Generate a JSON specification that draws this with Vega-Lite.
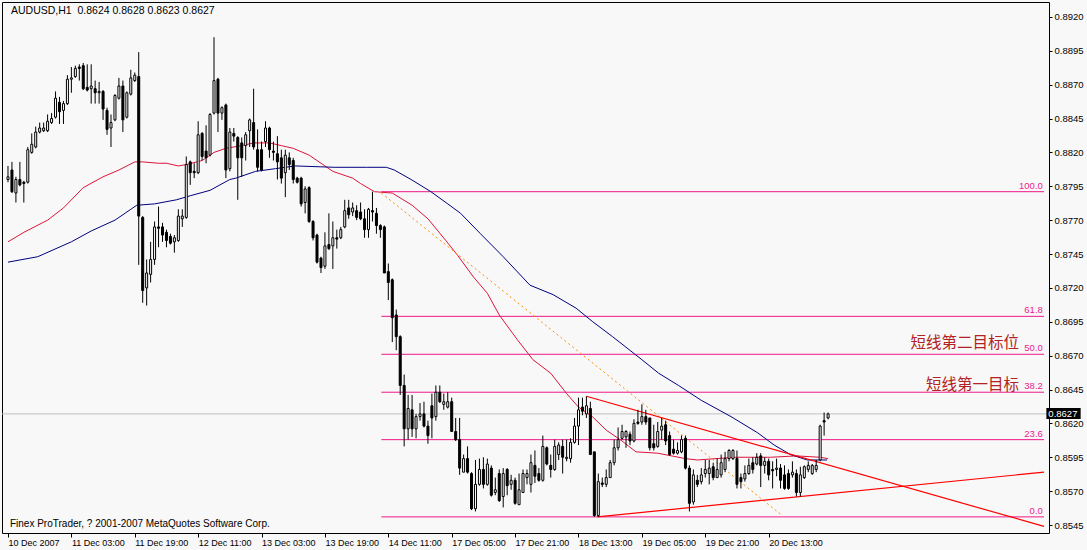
{
"$schema":"https://vega.github.io/schema/vega-lite/v6.json",
"width":1047,"height":531,
"autosize":{"type":"none"},
"padding":{"left":2,"top":2,"right":38,"bottom":17},
"background":"#F8F8F8",
"config":{"view":{"stroke":"#000000","strokeWidth":1},"text":{"font":"Liberation Sans"}},
"datasets":{
"bars":[
{"i":0,"o":0.8800,"h":0.8810,"l":0.8798,"c":0.8802},
{"i":1,"o":0.8807,"h":0.8813,"l":0.8790,"c":0.8791},
{"i":2,"o":0.8790,"h":0.8802,"l":0.8783,"c":0.8800},
{"i":3,"o":0.8800,"h":0.8813,"l":0.8795,"c":0.8796},
{"i":4,"o":0.8798,"h":0.8799,"l":0.8783,"c":0.8797},
{"i":5,"o":0.8798,"h":0.8824,"l":0.8797,"c":0.8822},
{"i":6,"o":0.8820,"h":0.8834,"l":0.8819,"c":0.8826},
{"i":7,"o":0.8824,"h":0.8839,"l":0.8823,"c":0.8835},
{"i":8,"o":0.8835,"h":0.8842,"l":0.8834,"c":0.8838},
{"i":9,"o":0.8836,"h":0.8842,"l":0.8835,"c":0.8838},
{"i":10,"o":0.8836,"h":0.8848,"l":0.8835,"c":0.8843},
{"i":11,"o":0.8842,"h":0.8849,"l":0.8841,"c":0.8845},
{"i":12,"o":0.8846,"h":0.8865,"l":0.8845,"c":0.8860},
{"i":13,"o":0.8857,"h":0.8861,"l":0.8841,"c":0.8850},
{"i":14,"o":0.8851,"h":0.8858,"l":0.8841,"c":0.8856},
{"i":15,"o":0.8856,"h":0.8877,"l":0.8855,"c":0.8874},
{"i":16,"o":0.8874,"h":0.8883,"l":0.8864,"c":0.8875},
{"i":17,"o":0.8876,"h":0.8884,"l":0.8875,"c":0.8882},
{"i":18,"o":0.8883,"h":0.8885,"l":0.8873,"c":0.8882},
{"i":19,"o":0.8884,"h":0.8886,"l":0.8866,"c":0.8867},
{"i":20,"o":0.8868,"h":0.8885,"l":0.8865,"c":0.8866},
{"i":21,"o":0.8867,"h":0.8885,"l":0.8856,"c":0.8869},
{"i":22,"o":0.8867,"h":0.8873,"l":0.8856,"c":0.8864},
{"i":23,"o":0.8864,"h":0.8872,"l":0.8856,"c":0.8865},
{"i":24,"o":0.8865,"h":0.8866,"l":0.8844,"c":0.8852},
{"i":25,"o":0.8851,"h":0.8853,"l":0.8833,"c":0.8837},
{"i":26,"o":0.8838,"h":0.8848,"l":0.8824,"c":0.8842},
{"i":27,"o":0.8844,"h":0.8863,"l":0.8843,"c":0.8862},
{"i":28,"o":0.8860,"h":0.8875,"l":0.8859,"c":0.8869},
{"i":29,"o":0.8869,"h":0.8873,"l":0.8835,"c":0.8844},
{"i":30,"o":0.8846,"h":0.8865,"l":0.8845,"c":0.8864},
{"i":31,"o":0.8863,"h":0.8881,"l":0.8862,"c":0.8875},
{"i":32,"o":0.8873,"h":0.8879,"l":0.8872,"c":0.8877},
{"i":33,"o":0.8876,"h":0.8894,"l":0.8737,"c":0.8773},
{"i":34,"o":0.8772,"h":0.8773,"l":0.8709,"c":0.8718},
{"i":35,"o":0.8720,"h":0.8741,"l":0.8707,"c":0.8731},
{"i":36,"o":0.8730,"h":0.8754,"l":0.8724,"c":0.8741},
{"i":37,"o":0.8741,"h":0.8769,"l":0.8737,"c":0.8765},
{"i":38,"o":0.8765,"h":0.8780,"l":0.8750,"c":0.8764},
{"i":39,"o":0.8765,"h":0.8768,"l":0.8754,"c":0.8759},
{"i":40,"o":0.8761,"h":0.8763,"l":0.8750,"c":0.8755},
{"i":41,"o":0.8758,"h":0.8760,"l":0.8752,"c":0.8753},
{"i":42,"o":0.8754,"h":0.8759,"l":0.8746,"c":0.8757},
{"i":43,"o":0.8755,"h":0.8778,"l":0.8754,"c":0.8773},
{"i":44,"o":0.8771,"h":0.8778,"l":0.8765,"c":0.8773},
{"i":45,"o":0.8772,"h":0.8817,"l":0.8771,"c":0.8811},
{"i":46,"o":0.8813,"h":0.8814,"l":0.8796,"c":0.8805},
{"i":47,"o":0.8806,"h":0.8812,"l":0.8801,"c":0.8805},
{"i":48,"o":0.8805,"h":0.8843,"l":0.8804,"c":0.8833},
{"i":49,"o":0.8834,"h":0.8835,"l":0.8814,"c":0.8817},
{"i":50,"o":0.8821,"h":0.8840,"l":0.8812,"c":0.8816},
{"i":51,"o":0.8818,"h":0.8849,"l":0.8817,"c":0.8848},
{"i":52,"o":0.8849,"h":0.8905,"l":0.8848,"c":0.8873},
{"i":53,"o":0.8874,"h":0.8875,"l":0.8835,"c":0.8849},
{"i":54,"o":0.8849,"h":0.8854,"l":0.8844,"c":0.8853},
{"i":55,"o":0.8855,"h":0.8856,"l":0.8801,"c":0.8807},
{"i":56,"o":0.8808,"h":0.8838,"l":0.8806,"c":0.8835},
{"i":57,"o":0.8834,"h":0.8838,"l":0.8828,"c":0.8832},
{"i":58,"o":0.8831,"h":0.8832,"l":0.8785,"c":0.8816},
{"i":59,"o":0.8827,"h":0.8831,"l":0.8802,"c":0.8816},
{"i":60,"o":0.8825,"h":0.8835,"l":0.8814,"c":0.8833},
{"i":61,"o":0.8836,"h":0.8845,"l":0.8824,"c":0.8844},
{"i":62,"o":0.8842,"h":0.8867,"l":0.8822,"c":0.8824},
{"i":63,"o":0.8822,"h":0.8837,"l":0.8806,"c":0.8809},
{"i":64,"o":0.8822,"h":0.8828,"l":0.8806,"c":0.8807},
{"i":65,"o":0.8828,"h":0.8843,"l":0.8824,"c":0.8838},
{"i":66,"o":0.8838,"h":0.8839,"l":0.8816,"c":0.8822},
{"i":67,"o":0.8821,"h":0.8828,"l":0.8814,"c":0.8820},
{"i":68,"o":0.8819,"h":0.8832,"l":0.8800,"c":0.8813},
{"i":69,"o":0.8816,"h":0.8822,"l":0.8797,"c":0.8801},
{"i":70,"o":0.8805,"h":0.8822,"l":0.8787,"c":0.8818},
{"i":71,"o":0.8816,"h":0.8820,"l":0.8807,"c":0.8811},
{"i":72,"o":0.8814,"h":0.8816,"l":0.8797,"c":0.8800},
{"i":73,"o":0.8801,"h":0.8802,"l":0.8797,"c":0.8798},
{"i":74,"o":0.8801,"h":0.8802,"l":0.8780,"c":0.8782},
{"i":75,"o":0.8783,"h":0.8795,"l":0.8775,"c":0.8793},
{"i":76,"o":0.8794,"h":0.8795,"l":0.8768,"c":0.8769},
{"i":77,"o":0.8769,"h":0.8770,"l":0.8755,"c":0.8757},
{"i":78,"o":0.8759,"h":0.8760,"l":0.8738,"c":0.8739},
{"i":79,"o":0.8742,"h":0.8743,"l":0.8731,"c":0.8735},
{"i":80,"o":0.8736,"h":0.8761,"l":0.8734,"c":0.8751},
{"i":81,"o":0.8752,"h":0.8775,"l":0.8748,"c":0.8749},
{"i":82,"o":0.8751,"h":0.8769,"l":0.8734,"c":0.8757},
{"i":83,"o":0.8757,"h":0.8763,"l":0.8749,"c":0.8756},
{"i":84,"o":0.8757,"h":0.8765,"l":0.8756,"c":0.8763},
{"i":85,"o":0.8765,"h":0.8785,"l":0.8764,"c":0.8777},
{"i":86,"o":0.8779,"h":0.8785,"l":0.8771,"c":0.8774},
{"i":87,"o":0.8776,"h":0.8783,"l":0.8773,"c":0.8779},
{"i":88,"o":0.8777,"h":0.8781,"l":0.8770,"c":0.8772},
{"i":89,"o":0.8776,"h":0.8783,"l":0.8770,"c":0.8771},
{"i":90,"o":0.8771,"h":0.8778,"l":0.8757,"c":0.8763},
{"i":91,"o":0.8763,"h":0.8779,"l":0.8757,"c":0.8778},
{"i":92,"o":0.8777,"h":0.8791,"l":0.8769,"c":0.8776},
{"i":93,"o":0.8775,"h":0.8779,"l":0.8760,"c":0.8766},
{"i":94,"o":0.8766,"h":0.8767,"l":0.8757,"c":0.8763},
{"i":95,"o":0.8765,"h":0.8766,"l":0.8731,"c":0.8731},
{"i":96,"o":0.8732,"h":0.8738,"l":0.8711,"c":0.8724},
{"i":97,"o":0.8726,"h":0.8727,"l":0.8680,"c":0.8698},
{"i":98,"o":0.8700,"h":0.8704,"l":0.8674,"c":0.8684},
{"i":99,"o":0.8684,"h":0.8685,"l":0.8641,"c":0.8648},
{"i":100,"o":0.8648,"h":0.8656,"l":0.8603,"c":0.8616},
{"i":101,"o":0.8616,"h":0.8641,"l":0.8608,"c":0.8631},
{"i":102,"o":0.8630,"h":0.8641,"l":0.8610,"c":0.8616},
{"i":103,"o":0.8616,"h":0.8627,"l":0.8609,"c":0.8625},
{"i":104,"o":0.8625,"h":0.8635,"l":0.8622,"c":0.8627},
{"i":105,"o":0.8627,"h":0.8636,"l":0.8617,"c":0.8618},
{"i":106,"o":0.8618,"h":0.8622,"l":0.8605,"c":0.8611},
{"i":107,"o":0.8633,"h":0.8642,"l":0.8609,"c":0.8624},
{"i":108,"o":0.8625,"h":0.8648,"l":0.8622,"c":0.8643},
{"i":109,"o":0.8643,"h":0.8648,"l":0.8635,"c":0.8636},
{"i":110,"o":0.8634,"h":0.8642,"l":0.8630,"c":0.8636},
{"i":111,"o":0.8632,"h":0.8643,"l":0.8631,"c":0.8636},
{"i":112,"o":0.8636,"h":0.8639,"l":0.8614,"c":0.8614},
{"i":113,"o":0.8614,"h":0.8624,"l":0.8607,"c":0.8608},
{"i":114,"o":0.8608,"h":0.8624,"l":0.8582,"c":0.8587},
{"i":115,"o":0.8584,"h":0.8597,"l":0.8584,"c":0.8594},
{"i":116,"o":0.8594,"h":0.8603,"l":0.8583,"c":0.8584},
{"i":117,"o":0.8583,"h":0.8584,"l":0.8556,"c":0.8557},
{"i":118,"o":0.8557,"h":0.8593,"l":0.8555,"c":0.8575},
{"i":119,"o":0.8575,"h":0.8594,"l":0.8574,"c":0.8586},
{"i":120,"o":0.8586,"h":0.8595,"l":0.8572,"c":0.8575},
{"i":121,"o":0.8575,"h":0.8594,"l":0.8574,"c":0.8590},
{"i":122,"o":0.8587,"h":0.8589,"l":0.8566,"c":0.8567},
{"i":123,"o":0.8569,"h":0.8580,"l":0.8567,"c":0.8571},
{"i":124,"o":0.8583,"h":0.8586,"l":0.8562,"c":0.8563},
{"i":125,"o":0.8566,"h":0.8587,"l":0.8558,"c":0.8583},
{"i":126,"o":0.8586,"h":0.8587,"l":0.8567,"c":0.8574},
{"i":127,"o":0.8575,"h":0.8582,"l":0.8571,"c":0.8578},
{"i":128,"o":0.8578,"h":0.8580,"l":0.8560,"c":0.8561},
{"i":129,"o":0.8560,"h":0.8583,"l":0.8560,"c":0.8571},
{"i":130,"o":0.8569,"h":0.8586,"l":0.8569,"c":0.8583},
{"i":131,"o":0.8580,"h":0.8586,"l":0.8575,"c":0.8583},
{"i":132,"o":0.8575,"h":0.8597,"l":0.8569,"c":0.8591},
{"i":133,"o":0.8589,"h":0.8600,"l":0.8576,"c":0.8581},
{"i":134,"o":0.8583,"h":0.8587,"l":0.8577,"c":0.8578},
{"i":135,"o":0.8578,"h":0.8611,"l":0.8577,"c":0.8603},
{"i":136,"o":0.8602,"h":0.8603,"l":0.8589,"c":0.8590},
{"i":137,"o":0.8589,"h":0.8597,"l":0.8580,"c":0.8586},
{"i":138,"o":0.8586,"h":0.8608,"l":0.8585,"c":0.8603},
{"i":139,"o":0.8597,"h":0.8606,"l":0.8593,"c":0.8604},
{"i":140,"o":0.8603,"h":0.8608,"l":0.8583,"c":0.8595},
{"i":141,"o":0.8594,"h":0.8608,"l":0.8592,"c":0.8595},
{"i":142,"o":0.8594,"h":0.8609,"l":0.8591,"c":0.8606},
{"i":143,"o":0.8606,"h":0.8624,"l":0.8605,"c":0.8618},
{"i":144,"o":0.8618,"h":0.8639,"l":0.8604,"c":0.8630},
{"i":145,"o":0.8632,"h":0.8639,"l":0.8626,"c":0.8629},
{"i":146,"o":0.8627,"h":0.8640,"l":0.8624,"c":0.8633},
{"i":147,"o":0.8631,"h":0.8636,"l":0.8597,"c":0.8597},
{"i":148,"o":0.8599,"h":0.8599,"l":0.8551,"c":0.8552},
{"i":149,"o":0.8552,"h":0.8583,"l":0.8551,"c":0.8577},
{"i":150,"o":0.8576,"h":0.8580,"l":0.8573,"c":0.8575},
{"i":151,"o":0.8575,"h":0.8586,"l":0.8573,"c":0.8580},
{"i":152,"o":0.8580,"h":0.8593,"l":0.8580,"c":0.8591},
{"i":153,"o":0.8591,"h":0.8608,"l":0.8589,"c":0.8602},
{"i":154,"o":0.8602,"h":0.8617,"l":0.8600,"c":0.8608},
{"i":155,"o":0.8609,"h":0.8619,"l":0.8608,"c":0.8614},
{"i":156,"o":0.8610,"h":0.8615,"l":0.8602,"c":0.8614},
{"i":157,"o":0.8612,"h":0.8614,"l":0.8604,"c":0.8607},
{"i":158,"o":0.8607,"h":0.8623,"l":0.8606,"c":0.8620},
{"i":159,"o":0.8621,"h":0.8630,"l":0.8619,"c":0.8620},
{"i":160,"o":0.8621,"h":0.8634,"l":0.8619,"c":0.8625},
{"i":161,"o":0.8625,"h":0.8630,"l":0.8619,"c":0.8621},
{"i":162,"o":0.8624,"h":0.8624,"l":0.8600,"c":0.8602},
{"i":163,"o":0.8605,"h":0.8619,"l":0.8600,"c":0.8602},
{"i":164,"o":0.8603,"h":0.8621,"l":0.8602,"c":0.8614},
{"i":165,"o":0.8615,"h":0.8624,"l":0.8608,"c":0.8618},
{"i":166,"o":0.8619,"h":0.8622,"l":0.8604,"c":0.8607},
{"i":167,"o":0.8611,"h":0.8614,"l":0.8596,"c":0.8597},
{"i":168,"o":0.8601,"h":0.8608,"l":0.8597,"c":0.8598},
{"i":169,"o":0.8598,"h":0.8606,"l":0.8597,"c":0.8600},
{"i":170,"o":0.8599,"h":0.8611,"l":0.8598,"c":0.8608},
{"i":171,"o":0.8609,"h":0.8611,"l":0.8586,"c":0.8587},
{"i":172,"o":0.8587,"h":0.8589,"l":0.8555,"c":0.8561},
{"i":173,"o":0.8562,"h":0.8586,"l":0.8560,"c":0.8582},
{"i":174,"o":0.8578,"h":0.8582,"l":0.8573,"c":0.8575},
{"i":175,"o":0.8577,"h":0.8587,"l":0.8575,"c":0.8582},
{"i":176,"o":0.8583,"h":0.8593,"l":0.8580,"c":0.8586},
{"i":177,"o":0.8583,"h":0.8593,"l":0.8575,"c":0.8587},
{"i":178,"o":0.8588,"h":0.8591,"l":0.8578,"c":0.8580},
{"i":179,"o":0.8580,"h":0.8594,"l":0.8580,"c":0.8586},
{"i":180,"o":0.8582,"h":0.8597,"l":0.8580,"c":0.8591},
{"i":181,"o":0.8586,"h":0.8599,"l":0.8584,"c":0.8594},
{"i":182,"o":0.8594,"h":0.8601,"l":0.8592,"c":0.8600},
{"i":183,"o":0.8594,"h":0.8601,"l":0.8593,"c":0.8600},
{"i":184,"o":0.8594,"h":0.8600,"l":0.8572,"c":0.8575},
{"i":185,"o":0.8580,"h":0.8583,"l":0.8572,"c":0.8577},
{"i":186,"o":0.8579,"h":0.8589,"l":0.8577,"c":0.8583},
{"i":187,"o":0.8583,"h":0.8594,"l":0.8582,"c":0.8589},
{"i":188,"o":0.8591,"h":0.8595,"l":0.8583,"c":0.8586},
{"i":189,"o":0.8590,"h":0.8598,"l":0.8589,"c":0.8595},
{"i":190,"o":0.8596,"h":0.8598,"l":0.8573,"c":0.8589},
{"i":191,"o":0.8589,"h":0.8595,"l":0.8583,"c":0.8592},
{"i":192,"o":0.8592,"h":0.8594,"l":0.8578,"c":0.8582},
{"i":193,"o":0.8586,"h":0.8592,"l":0.8572,"c":0.8585},
{"i":194,"o":0.8586,"h":0.8594,"l":0.8581,"c":0.8587},
{"i":195,"o":0.8587,"h":0.8590,"l":0.8572,"c":0.8578},
{"i":196,"o":0.8582,"h":0.8589,"l":0.8571,"c":0.8572},
{"i":197,"o":0.8583,"h":0.8586,"l":0.8571,"c":0.8572},
{"i":198,"o":0.8582,"h":0.8592,"l":0.8580,"c":0.8584},
{"i":199,"o":0.8583,"h":0.8586,"l":0.8566,"c":0.8569},
{"i":200,"o":0.8569,"h":0.8588,"l":0.8566,"c":0.8582},
{"i":201,"o":0.8580,"h":0.8589,"l":0.8579,"c":0.8588},
{"i":202,"o":0.8586,"h":0.8592,"l":0.8584,"c":0.8589},
{"i":203,"o":0.8583,"h":0.8590,"l":0.8582,"c":0.8589},
{"i":204,"o":0.8586,"h":0.8593,"l":0.8584,"c":0.8589},
{"i":205,"o":0.8593,"h":0.8619,"l":0.8592,"c":0.8618},
{"i":206,"o":0.8622,"h":0.8628,"l":0.8611,"c":0.8621},
{"i":207,"o":0.8624,"h":0.8628,"l":0.8623,"c":0.8627}
],
"ma":[
{"s":"fast","i":0,"v":0.8754},{"s":"fast","i":4,"v":0.8761},{"s":"fast","i":10,"v":0.8770},{"s":"fast","i":14,"v":0.8779},{"s":"fast","i":19,"v":0.8794},{"s":"fast","i":24,"v":0.8802},{"s":"fast","i":28,"v":0.8807},{"s":"fast","i":32,"v":0.8813},{"s":"fast","i":34,"v":0.8813},{"s":"fast","i":38,"v":0.8812},{"s":"fast","i":40,"v":0.8812},{"s":"fast","i":43,"v":0.8810},{"s":"fast","i":45,"v":0.8811},{"s":"fast","i":49,"v":0.8814},{"s":"fast","i":52,"v":0.8820},{"s":"fast","i":55,"v":0.8823},{"s":"fast","i":59,"v":0.8825},{"s":"fast","i":62,"v":0.8827},{"s":"fast","i":66,"v":0.8827},{"s":"fast","i":69,"v":0.8825},{"s":"fast","i":72,"v":0.8823},{"s":"fast","i":76,"v":0.8818},{"s":"fast","i":79,"v":0.8812},{"s":"fast","i":82,"v":0.8806},{"s":"fast","i":87,"v":0.8801},{"s":"fast","i":89,"v":0.8797},{"s":"fast","i":92.5,"v":0.8791},{"s":"fast","i":97,"v":0.8790},{"s":"fast","i":102,"v":0.8781},{"s":"fast","i":106,"v":0.8771},{"s":"fast","i":110.5,"v":0.8755},{"s":"fast","i":113.5,"v":0.8744},{"s":"fast","i":117.5,"v":0.8728},{"s":"fast","i":121,"v":0.8716},{"s":"fast","i":124,"v":0.8700},{"s":"fast","i":128.5,"v":0.8682},{"s":"fast","i":132.5,"v":0.8667},{"s":"fast","i":137,"v":0.8657},{"s":"fast","i":141,"v":0.8642},{"s":"fast","i":144,"v":0.8632},{"s":"fast","i":147.5,"v":0.8625},{"s":"fast","i":151,"v":0.8615},{"s":"fast","i":155,"v":0.8607},{"s":"fast","i":158.5,"v":0.8599},{"s":"fast","i":164,"v":0.8598},{"s":"fast","i":171,"v":0.8594},{"s":"fast","i":174,"v":0.8593},{"s":"fast","i":183.5,"v":0.8595},{"s":"fast","i":192.5,"v":0.8595},{"s":"fast","i":199,"v":0.8596},{"s":"fast","i":205,"v":0.8595},{"s":"fast","i":207,"v":0.8594},
{"s":"slow","i":0,"v":0.8739},{"s":"slow","i":7.5,"v":0.8743},{"s":"slow","i":16,"v":0.8754},{"s":"slow","i":21,"v":0.8762},{"s":"slow","i":27,"v":0.8770},{"s":"slow","i":31,"v":0.8778},{"s":"slow","i":32.5,"v":0.8781},{"s":"slow","i":37,"v":0.8782},{"s":"slow","i":42.5,"v":0.8785},{"s":"slow","i":46,"v":0.8788},{"s":"slow","i":51,"v":0.8792},{"s":"slow","i":56,"v":0.8800},{"s":"slow","i":57.5,"v":0.8801},{"s":"slow","i":62.5,"v":0.8806},{"s":"slow","i":67.5,"v":0.8808},{"s":"slow","i":72.5,"v":0.8810},{"s":"slow","i":82.5,"v":0.8809},{"s":"slow","i":90.5,"v":0.8809},{"s":"slow","i":95.5,"v":0.8809},{"s":"slow","i":97.5,"v":0.8807},{"s":"slow","i":101.75,"v":0.8800},{"s":"slow","i":106.75,"v":0.8791},{"s":"slow","i":111,"v":0.8782},{"s":"slow","i":114.25,"v":0.8775},{"s":"slow","i":119.25,"v":0.8760},{"s":"slow","i":125,"v":0.8743},{"s":"slow","i":131.75,"v":0.8722},{"s":"slow","i":137.6,"v":0.8715},{"s":"slow","i":143.4,"v":0.8705},{"s":"slow","i":147.6,"v":0.8695},{"s":"slow","i":152.6,"v":0.8684},{"s":"slow","i":160,"v":0.8667},{"s":"slow","i":164.25,"v":0.8657},{"s":"slow","i":169.25,"v":0.8648},{"s":"slow","i":175,"v":0.8637},{"s":"slow","i":182.5,"v":0.8625},{"s":"slow","i":189.25,"v":0.8613},{"s":"slow","i":193.4,"v":0.8604},{"s":"slow","i":197.5,"v":0.8597},{"s":"slow","i":201.75,"v":0.8593},{"s":"slow","i":206.75,"v":0.8593}
],
"fib":[
{"level":"100.0","p":0.8791},{"level":"61.8","p":0.8699},{"level":"50.0","p":0.8671},{"level":"38.2","p":0.8643},{"level":"23.6","p":0.8608},{"level":"0.0","p":0.8551}
],
"trend":[
{"id":"down","i":146,"p":0.8640},{"id":"down","i":261.5,"p":0.8544},
{"id":"up","i":148.75,"p":0.8551},{"id":"up","i":261.5,"p":0.8584}
],
"dash":[{"i":94.25,"p":0.8790},{"i":195,"p":0.8553}],
"last":[{"p":0.8627,"t":"0.8627"}],
"notes":[{"t":"短线第二目标位","p":0.8679},{"t":"短线第一目标","p":0.8648}],
"head":[{"t":"AUDUSD,H1\u00a0 0.8624 0.8628 0.8623 0.8627"}],
"foot":[{"t":"Finex ProTrader, ? 2001-2007 MetaQuotes Software Corp."}]
},
"resolve":{"axis":{"x":"independent","y":"independent"}},
"layer":[
{"data":{"name":"bars"},"mark":{"type":"rule","color":"#000000","strokeWidth":1,"opacity":0},
 "encoding":{"x":{"field":"i","type":"quantitative","scale":{"domain":[-0.25,261.5],"nice":false,"zero":false},
   "axis":{"orient":"bottom","values":[0,16,32,48,64,80,96,112,128,144,160,176,192],
   "labelExpr":"['10 Dec 2007','11 Dec 03:00','11 Dec 19:00','12 Dec 11:00','13 Dec 03:00','13 Dec 19:00','14 Dec 11:00','17 Dec 05:00','17 Dec 21:00','18 Dec 13:00','19 Dec 05:00','19 Dec 21:00','20 Dec 13:00'][round(datum.value/16)]",
   "labelAlign":"left","labelBaseline":"top","labelPadding":1,"tickSize":4,"tickColor":"#000000","domain":false,"grid":false,"title":null,
   "labelFont":"Liberation Sans","labelFontSize":9,"labelColor":"#000000","labelOverlap":false,"labelFlush":false,"labelBound":false}},
 "y":{"field":"l","type":"quantitative","scale":{"domain":[0.85391,0.8931],"nice":false,"zero":false},
   "axis":{"orient":"right","values":[0.8545,0.857,0.8595,0.862,0.8645,0.867,0.8695,0.872,0.8745,0.877,0.8795,0.882,0.8845,0.887,0.8895,0.892],
   "format":".4f","tickSize":3,"labelPadding":2,"domain":false,"grid":false,"title":null,"tickColor":"#000000",
   "labelFont":"Liberation Sans","labelFontSize":9.5,"labelColor":"#000000","labelOverlap":false,"labelFlush":false}},
 "y2":{"field":"h"}}},
{"data":{"name":"last"},"mark":{"type":"rule","color":"#C0C0C0","strokeWidth":1},
 "encoding":{"y":{"field":"p","type":"quantitative","scale":{"domain":[0.85391,0.8931],"nice":false,"zero":false},"axis":null}}},
{"data":{"name":"fib"},"mark":{"type":"rule","color":"#F0188C","strokeWidth":1},
 "encoding":{"x":{"datum":94.25,"type":"quantitative","scale":{"domain":[-0.25,261.5],"nice":false,"zero":false},"axis":null},"x2":{"datum":261.5},
 "y":{"field":"p","type":"quantitative","scale":{"domain":[0.85391,0.8931],"nice":false,"zero":false},"axis":null}}},
{"data":{"name":"fib"},"mark":{"type":"text","color":"#F0188C","fontSize":9.5,"align":"right","baseline":"bottom","dy":-1},
 "encoding":{"x":{"datum":261.2,"type":"quantitative","scale":{"domain":[-0.25,261.5],"nice":false,"zero":false},"axis":null},
 "y":{"field":"p","type":"quantitative","scale":{"domain":[0.85391,0.8931],"nice":false,"zero":false},"axis":null},"text":{"field":"level"}}},
{"data":{"name":"ma"},"mark":{"type":"line","strokeWidth":1},
 "encoding":{"x":{"field":"i","type":"quantitative","scale":{"domain":[-0.25,261.5],"nice":false,"zero":false},"axis":null},
 "y":{"field":"v","type":"quantitative","scale":{"domain":[0.85391,0.8931],"nice":false,"zero":false},"axis":null},
 "color":{"field":"s","type":"nominal","scale":{"domain":["fast","slow"],"range":["#DC143C","#000080"]},"legend":null}}},
{"data":{"name":"dash"},"mark":{"type":"line","color":"#FF8C00","strokeWidth":1,"strokeDash":[2,3]},
 "encoding":{"x":{"field":"i","type":"quantitative","scale":{"domain":[-0.25,261.5],"nice":false,"zero":false},"axis":null},
 "y":{"field":"p","type":"quantitative","scale":{"domain":[0.85391,0.8931],"nice":false,"zero":false},"axis":null}}},
{"data":{"name":"trend"},"mark":{"type":"line","color":"#FF0000","strokeWidth":1.2},
 "encoding":{"x":{"field":"i","type":"quantitative","scale":{"domain":[-0.25,261.5],"nice":false,"zero":false},"axis":null},
 "y":{"field":"p","type":"quantitative","scale":{"domain":[0.85391,0.8931],"nice":false,"zero":false},"axis":null},"detail":{"field":"id"}}},
{"data":{"name":"bars"},"mark":{"type":"rule","color":"#000000","strokeWidth":1},
 "encoding":{"x":{"field":"i","type":"quantitative","scale":{"domain":[-0.25,261.5],"nice":false,"zero":false},"axis":null},
 "y":{"field":"l","type":"quantitative","scale":{"domain":[0.85391,0.8931],"nice":false,"zero":false},"axis":null},"y2":{"field":"h"}}},
{"data":{"name":"bars"},"mark":{"type":"bar","width":2,"stroke":"#000000","strokeWidth":1},
 "encoding":{"x":{"field":"i","type":"quantitative","scale":{"domain":[-0.25,261.5],"nice":false,"zero":false},"axis":null},
 "y":{"field":"o","type":"quantitative","scale":{"domain":[0.85391,0.8931],"nice":false,"zero":false},"axis":null},"y2":{"field":"c"},
 "fill":{"condition":{"test":"datum.o > datum.c","value":"#000000"},"value":"#FFFFFF"}}},
{"data":{"name":"notes"},"mark":{"type":"text","font":"Noto Sans CJK SC","fontSize":15.5,"color":"#B22222","align":"right","baseline":"middle"},
 "encoding":{"x":{"datum":255.2,"type":"quantitative","scale":{"domain":[-0.25,261.5],"nice":false,"zero":false},"axis":null},
 "y":{"field":"p","type":"quantitative","scale":{"domain":[0.85391,0.8931],"nice":false,"zero":false},"axis":null},"text":{"field":"t"}}},
{"data":{"name":"head"},"mark":{"type":"text","fontSize":10.5,"color":"#000000","align":"left","baseline":"middle"},
 "encoding":{"x":{"datum":0.75,"type":"quantitative","scale":{"domain":[-0.25,261.5],"nice":false,"zero":false},"axis":null},
 "y":{"datum":0.8924,"type":"quantitative","scale":{"domain":[0.85391,0.8931],"nice":false,"zero":false},"axis":null},"text":{"field":"t"}}},
{"data":{"name":"foot"},"mark":{"type":"text","fontSize":10,"color":"#000000","align":"left","baseline":"middle"},
 "encoding":{"x":{"datum":0.5,"type":"quantitative","scale":{"domain":[-0.25,261.5],"nice":false,"zero":false},"axis":null},
 "y":{"datum":0.8546,"type":"quantitative","scale":{"domain":[0.85391,0.8931],"nice":false,"zero":false},"axis":null},"text":{"field":"t"}}},
{"data":{"name":"last"},"mark":{"type":"rect","color":"#000000"},
 "encoding":{"x":{"datum":262.1,"type":"quantitative","scale":{"domain":[-0.25,261.5],"nice":false,"zero":false},"axis":null},"x2":{"datum":270.75},
 "y":{"datum":0.86313,"type":"quantitative","scale":{"domain":[0.85391,0.8931],"nice":false,"zero":false},"axis":null},"y2":{"datum":0.86232}}},
{"data":{"name":"last"},"mark":{"type":"text","fontSize":9.5,"color":"#FFFFFF","align":"left","baseline":"middle"},
 "encoding":{"x":{"datum":262.6,"type":"quantitative","scale":{"domain":[-0.25,261.5],"nice":false,"zero":false},"axis":null},
 "y":{"field":"p","type":"quantitative","scale":{"domain":[0.85391,0.8931],"nice":false,"zero":false},"axis":null},"text":{"field":"t"}}}
]
}
